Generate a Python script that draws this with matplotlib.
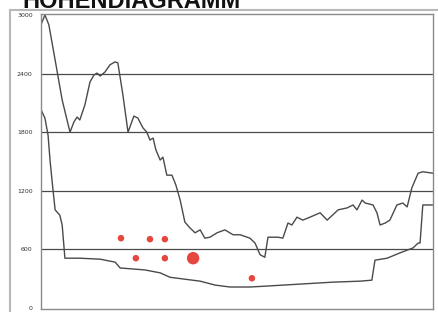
import numpy as np
import matplotlib
matplotlib.use("Agg")
import matplotlib.pyplot as plt
from matplotlib.lines import Line2D

# distance along the route (0-100) and elevation in m
dist_top = [0, 1.0, 2.0, 3.6, 5.4, 7.4, 8.4, 9.2, 9.9, 11.2, 12.5, 13.5, 14.3, 15.1, 16.3,
            17.6, 18.9, 19.6, 20.9, 22.2, 23.7, 24.7, 26.0, 27.0, 27.8, 28.6, 29.3, 30.4,
            31.1, 32.1, 33.4, 34.4, 35.5, 36.7, 38.0, 39.3, 40.6, 41.8, 43.1, 44.9, 46.9,
            49.0, 50.8, 53.3, 54.6, 55.9, 57.1, 57.9, 60.5, 61.7, 63.0, 64.0, 65.3, 66.8,
            68.6, 71.2, 73.0, 75.8, 78.1, 79.6, 80.6, 81.9, 82.7, 84.7, 85.7, 86.5, 87.8,
            89.0, 90.8, 92.3, 93.4, 94.6, 96.2, 97.4, 100]
elev_top = [2900, 3000, 2900, 2540, 2130, 1800, 1905, 1955, 1925, 2080, 2315, 2385, 2405,
            2375, 2415, 2490, 2520, 2510, 2180, 1800, 1965, 1945, 1845, 1800, 1720, 1740,
            1620, 1515, 1545, 1360, 1360, 1260, 1105, 880, 820, 770, 800, 715, 725, 770,
            800, 750, 750, 715, 665, 545, 520, 725, 725, 715, 870, 850, 930, 900, 930, 975,
            900, 1005, 1025, 1055, 1005, 1105, 1075, 1055, 975, 850, 870, 900, 1055, 1075,
            1035, 1230, 1380, 1395, 1380]

dist_low = [0, 1.0, 1.8, 2.3, 2.8, 3.6, 4.8, 5.4, 6.1, 9.9, 15.1, 17.6, 18.9, 20.2, 26.5,
            30.4, 32.9, 36.7, 40.6, 44.4, 48.2, 53.3, 57.7, 66.1, 74.5, 81.4, 84.4, 85.2,
            88.3, 91.6, 94.9, 96.2, 96.7, 97.4, 100]
elev_low = [2030, 1945, 1770, 1515, 1310, 1005, 950, 850, 510, 510, 500, 480, 470, 410, 390,
            360, 315, 295, 275, 235, 215, 215, 225, 245, 265, 275, 285, 490, 510, 565, 615,
            665, 665, 1055, 1055]

dot_dist = [20.4, 27.8, 31.6, 24.2, 31.6, 38.8, 53.8]
dot_elev = [715, 705, 705, 510, 510, 510, 305]
dot_size = [22, 22, 22, 22, 22, 80, 22]

yticks = [0, 600, 1200, 1800, 2400, 3000]

fig = plt.figure(figsize=(4.38, 3.12), dpi=100)
fig.patch.set_facecolor('white')
ax = fig.add_axes([41/438, 3/312, 392/438, 295/312])

ax.set_xlim(0, 100)
ax.set_ylim(-10, 3010)
ax.set_yticks(yticks)
ax.set_yticklabels([str(t) for t in yticks], fontsize=4.5, color='#333333')
ax.set_xticks([])
ax.tick_params(axis='y', length=0, pad=6)
for t in yticks[1:-1]:
    ax.axhline(t, color='#4a4a4a', lw=0.9, zorder=1)
for s in ax.spines.values():
    s.set_color('#8a8a8a')
    s.set_linewidth(1.0)

ax.plot(dist_top, elev_top, '-', c='#4a4a4a', lw=1.0, zorder=2)
ax.plot(dist_low, elev_low, '-', c='#4a4a4a', lw=1.0, zorder=2)
ax.scatter(dot_dist, dot_elev, s=dot_size, c='#e5463d', edgecolors='none', zorder=3)

# outer panel border
fig.add_artist(Line2D([10/438, 10/438], [0, 1 - 10/312], color='#b8b8b8', lw=1.5))
fig.add_artist(Line2D([10/438, 1], [1 - 10/312, 1 - 10/312], color='#b8b8b8', lw=1.5))

# title, cut off at top
fig.text(22/438, 1 - 8/312, 'HÖHENDIAGRAMM', fontsize=17, fontweight='bold',
         family='Liberation Sans', color='#111111', va='baseline', ha='left')

fig.savefig('out.png', dpi=100)
